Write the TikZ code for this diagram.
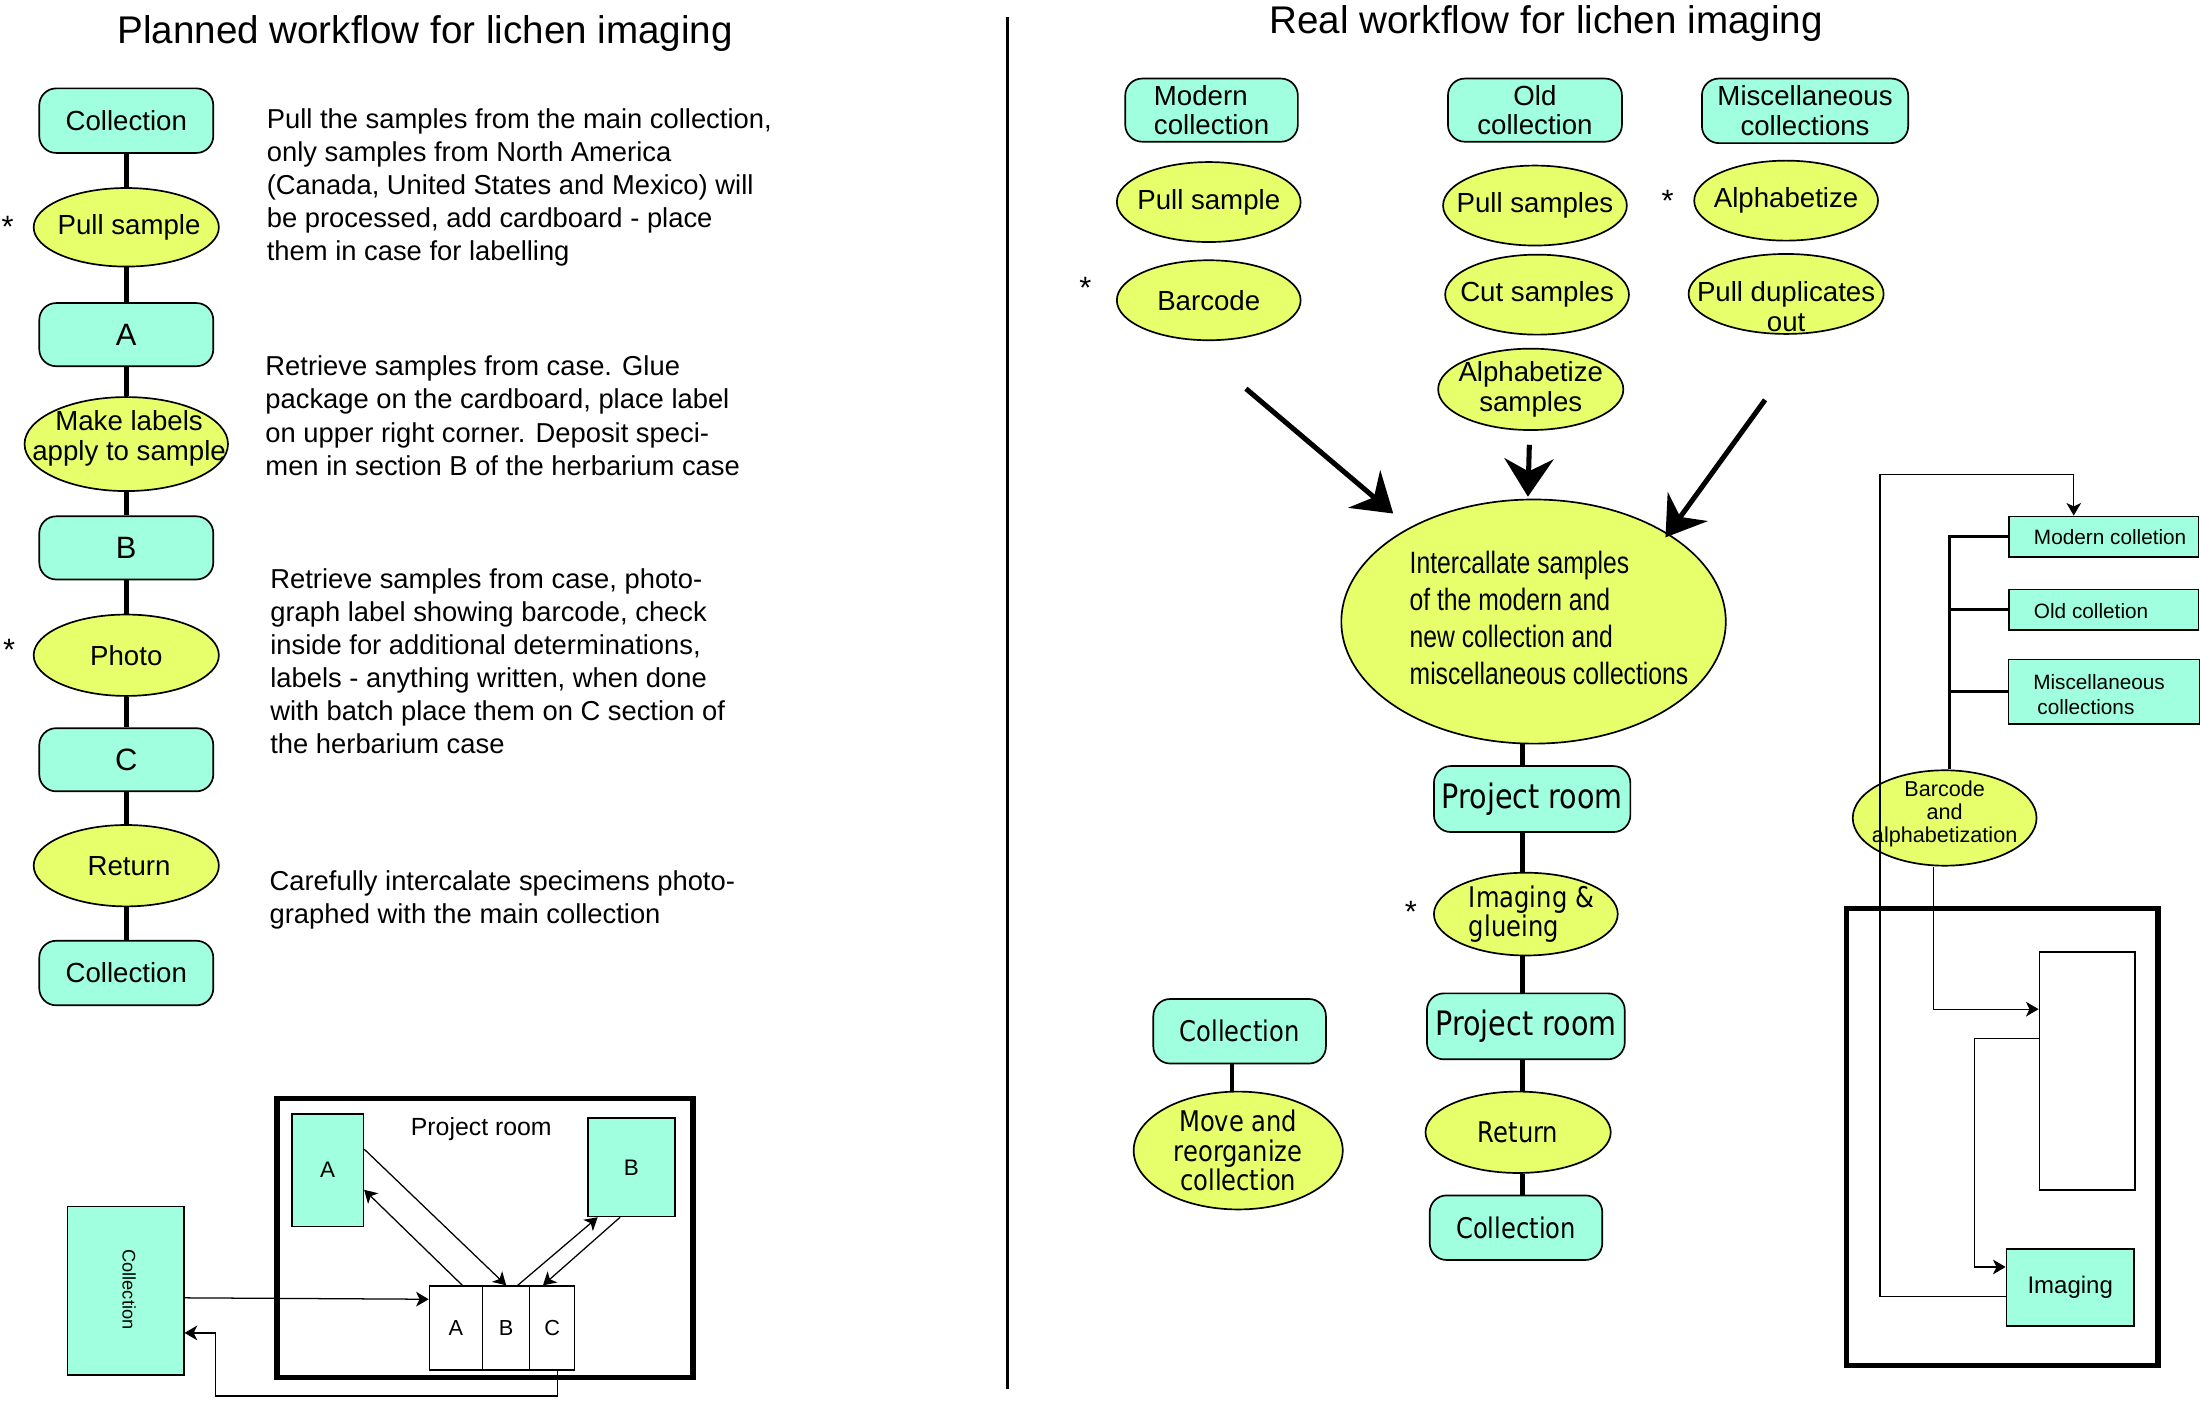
\documentclass[tikz,border=0pt]{standalone}
\usepackage{fontspec}
\setmainfont{Liberation Sans}
\newfontfamily\narrowf[FakeStretch=0.8]{Liberation Sans}
\newfontfamily\widef[FakeStretch=0.85]{DejaVu Sans}
\usetikzlibrary{shapes.geometric,arrows.meta,calc}
\definecolor{cgreen}{RGB}{159,255,222}
\definecolor{cyel}{RGB}{232,255,108}
\newcommand{\fsz}[2]{\fontsize{#1pt}{#2pt}\selectfont}
\begin{document}
\begin{tikzpicture}[x=1pt,y=-1pt,
  gbox/.style={draw, line width=1.2pt, fill=cgreen, rounded corners=12pt, inner sep=0pt, align=center},
  yell/.style={draw, ellipse, line width=1.2pt, fill=cyel, inner sep=0pt},
  rbox/.style={draw, line width=1.1pt, fill=cgreen, inner sep=0pt},
  cell/.style={draw, line width=0.9pt, fill=white, inner sep=0pt, minimum height=60pt, font=\fsz{15.5}{17}},
  ltxt/.style={font=\fsz{19.7}{21}, align=center, inner sep=0pt},
  wtxt/.style={font=\widef\fsz{20.3}{21}, align=center, inner sep=0pt},
  wlab/.style={font=\fsz{14.8}{18}, align=left, inner sep=0pt},
  para/.style={font=\fsz{19.5}{23.6}, align=left, inner sep=0pt, anchor=north west},
  ast/.style={font=\fsz{22}{22}, inner sep=0pt},
  conn/.style={line width=3.2pt},
  busline/.style={line width=2.4pt},
  thinarrow/.style={line width=0.9pt, -{Stealth[length=9pt, width=10.5pt, inset=2.5pt]}},
  bigarrow/.style={line width=3.6pt, -{Stealth[length=27pt, width=35pt, inset=9pt]}},
  room/.style={draw, line width=3.8pt, inner sep=0pt}
]
\fill[white] (0,0) rectangle (1568,998.5);
\useasboundingbox (0,0) rectangle (1568,998.5);

% ---------------- titles and divider
\node[font=\fsz{27.5}{30}, anchor=base, inner sep=0pt] (T1) at (303,31) {Planned workflow for lichen imaging};
\node[font=\fsz{27.5}{30}, anchor=base, inner sep=0pt] (T2) at (1102,24) {Real workflow for lichen imaging};
\coordinate (dv1) at (718,12);
\coordinate (dv2) at (718,990);
\draw[line width=2.2pt] (dv1) -- (dv2);

% ---------------- planned workflow column
\node[gbox, minimum width=124pt, minimum height=46pt, font=\fsz{19.7}{21}] (L1) at (90,86) {Collection};
\node[yell, minimum width=132pt, minimum height=56pt, label={[ltxt, xshift=2pt]center:Pull sample}] (L2) at (90,162) {};
\node[gbox, minimum width=124pt, minimum height=45pt, font=\fsz{22}{24}] (L3) at (90,238.5) {A};
\node[yell, minimum width=145pt, minimum height=67pt, label={[ltxt, xshift=2pt, yshift=4pt]center:{Make labels\\apply to sample}}] (L4) at (90,316.5) {};
\node[gbox, minimum width=124pt, minimum height=45pt, font=\fsz{22}{24}] (L5) at (90,390.5) {B};
\node[yell, minimum width=132pt, minimum height=58pt, label={[ltxt]center:Photo}] (L6) at (90,467) {};
\node[gbox, minimum width=124pt, minimum height=45pt, font=\fsz{22}{24}] (L7) at (90,541.5) {C};
\node[yell, minimum width=132pt, minimum height=58pt, label={[ltxt, xshift=2pt]center:Return}] (L8) at (90,617) {};
\node[gbox, minimum width=124pt, minimum height=46pt, font=\fsz{19.7}{21}] (L9) at (90,693.5) {Collection};
\foreach \a/\b in {L1/L2,L2/L3,L3/L4,L4/L5,L5/L6,L6/L7,L7/L8,L8/L9}
  \draw[conn] (\a.south) -- (\b.north);
\node[ast] (S1) at (5.5,162) {*};
\node[ast] (S2) at (6.5,463) {*};

\node[para] (P1) at (190,77) {Pull the samples from the main collection,\\only samples from North America\\(Canada, United States and Mexico) will\\be processed, add cardboard - place\\them in case for labelling};
\node[para] (P2) at (189,253.5) {Retrieve samples from case. Glue\\package on the cardboard, place label\\on upper right corner. Deposit speci-\\men in section B of the herbarium case};
\node[para] (P3) at (192.5,405) {Retrieve samples from case, photo-\\graph label showing barcode, check\\inside for additional determinations,\\labels - anything written, when done\\with batch place them on C section of\\the herbarium case};
\node[para] (P4) at (192,620.5) {Carefully intercalate specimens photo-\\graphed with the main collection};

% ---------------- floor plan (planned)
\node[room, minimum width=296.5pt, minimum height=199pt] (PR) at (345.75,882.5) {};
\node[rbox, minimum width=51pt, minimum height=80pt, font=\fsz{16}{17}] (RA) at (233.5,834) {A};
\node[rbox, minimum width=62pt, minimum height=70pt, font=\fsz{16}{17}] (RB) at (450,832) {B};
\node[font=\fsz{17.7}{19}, inner sep=0pt] (PRt) at (343,805) {Project room};
\node[rbox, minimum width=83pt, minimum height=120pt] (RC) at (89.5,920) {};
\node[font=\fsz{13}{14}, inner sep=0pt, rotate=-90] (RCt) at (92,919) {Collection};
\node[cell, minimum width=38pt] (CA) at (325,946.5) {A};
\node[cell, minimum width=33.5pt] (CB) at (360.75,946.5) {B};
\node[cell, minimum width=32pt] (CC) at (393.5,946.5) {C};
\draw[thinarrow] ([yshift=-5pt]RC.east) -- ([yshift=20.5pt]CA.west);
\draw[thinarrow] ([xshift=4.5pt]CA.north) -- ([yshift=-14pt]RA.east);
\draw[thinarrow] ([yshift=15pt]RA.east) -- (CB.north);
\draw[thinarrow] ([xshift=8.25pt]CB.north) -- ([xshift=-24pt]RB.south);
\draw[thinarrow] ([xshift=-8pt]RB.south) -- ([xshift=-6.5pt]CC.north);
\coordinate (rtn) at (153.7,995);
\draw[thinarrow] ([xshift=4pt]CC.south) |- (rtn) |- ([yshift=-30pt]RC.east);

% ---------------- real workflow: sources
\node[gbox, minimum width=123pt, minimum height=45pt, font=\fsz{19.7}{21}, align=left] (R1) at (863.5,78.5) {Modern\\collection};
\node[gbox, minimum width=124pt, minimum height=45pt, font=\fsz{19.7}{21}] (R2) at (1094,78.5) {Old\\collection};
\node[gbox, minimum width=147pt, minimum height=46pt, font=\fsz{19.7}{21}] (R3) at (1286.5,79) {Miscellaneous\\collections};
\node[yell, minimum width=131pt, minimum height=57pt, label={[ltxt]center:Pull sample}] (R4) at (861.5,144) {};
\node[yell, minimum width=131pt, minimum height=57pt, label={[ltxt]center:Barcode}] (R5) at (861.5,214) {};
\node[yell, minimum width=131pt, minimum height=57pt, label={[ltxt]center:Pull samples}] (R6) at (1094,146.5) {};
\node[yell, minimum width=131pt, minimum height=57pt, label={[ltxt]center:Cut samples}] (R7) at (1095.5,210) {};
\node[yell, minimum width=132pt, minimum height=58pt, label={[ltxt]center:{Alphabetize\\samples}}] (R8) at (1091,277.5) {};
\node[yell, minimum width=131pt, minimum height=57pt, label={[ltxt]center:Alphabetize}] (R9) at (1273,143) {};
\node[yell, minimum width=139pt, minimum height=57pt, label={[ltxt, yshift=-9pt]center:{Pull duplicates\\out}}] (R10) at (1273,209.5) {};
\node[ast] (S3) at (773.5,205) {*};
\node[ast] (S4) at (1188.5,143) {*};

% ---------------- intercalation
\node[yell, minimum width=274pt, minimum height=174pt, label={[font=\narrowf\fsz{22}{26.5}, align=left, inner sep=0pt, xshift=11pt, yshift=2.5pt]center:{Intercallate samples\\of the modern and\\new collection and\\miscellaneous collections}}] (IC) at (1093,443) {};
\coordinate (a1s) at (888,277);
\coordinate (a1e) at (993,366);
\coordinate (a2s) at (1090,317);
\coordinate (a2e) at (1089,354);
\coordinate (a3s) at (1258,285);
\coordinate (a3e) at (1187,383);
\draw[bigarrow] (a1s) -- (a1e);
\draw[bigarrow] (a2s) -- (a2e);
\draw[bigarrow] (a3s) -- (a3e);

\node[gbox, minimum width=140pt, minimum height=47pt, font=\widef\fsz{24}{26}] (PR1) at (1092,569.5) {Project room};
\node[yell, minimum width=131pt, minimum height=59pt, label={[wtxt, align=left, xshift=4pt]center:{Imaging \&\\glueing}}] (IM) at (1087.5,651.5) {};
\node[gbox, minimum width=141pt, minimum height=47pt, font=\widef\fsz{24}{26}] (PR2) at (1087.5,731.5) {Project room};
\node[yell, minimum width=132pt, minimum height=58pt, label={[wtxt]center:Return}] (RT) at (1082,807) {};
\node[gbox, minimum width=123pt, minimum height=46pt, font=\widef\fsz{20.3}{21}] (C3) at (1080.5,875) {Collection};
\node[ast] (S5) at (1005.5,650) {*};
\coordinate (sp) at (1085,0);
\draw[conn] (IC.south -| sp) -- (PR1.north -| sp);
\draw[conn] (PR1.south -| sp) -- (IM.north -| sp);
\draw[conn] (IM.south -| sp) -- (PR2.north -| sp);
\draw[conn] (PR2.south -| sp) -- (RT.north -| sp);
\draw[conn] (RT.south -| sp) -- (C3.north -| sp);

\node[gbox, minimum width=123pt, minimum height=46pt, font=\widef\fsz{20.3}{21}] (C4) at (883.5,735) {Collection};
\node[yell, minimum width=149pt, minimum height=84pt, label={[wtxt]center:{Move and\\reorganize\\collection}}] (MV) at (882.5,820) {};
\coordinate (sp2) at (878,0);
\draw[conn] (C4.south -| sp2) -- (MV.north -| sp2);

% ---------------- right-most plan
\node[room, minimum width=222pt, minimum height=325.5pt] (BB) at (1427,810.25) {};
\node[draw, line width=1.1pt, fill=white, inner sep=0pt, minimum width=68pt, minimum height=169.5pt] (IR) at (1487.5,763.25) {};
\node[rbox, minimum width=91pt, minimum height=55pt, font=\fsz{17.1}{19}] (IG) at (1475.5,917.5) {Imaging};
\node[rbox, minimum width=135pt, minimum height=29pt] (M1) at (1499.5,382.5) {};
\node[wlab, anchor=west] (M1t) at ([xshift=18pt]M1.west) {Modern colletion};
\node[rbox, minimum width=135pt, minimum height=29pt] (M2) at (1499.5,434.5) {};
\node[wlab, anchor=west] (M2t) at ([xshift=18pt, yshift=-1pt]M2.west) {Old colletion};
\node[rbox, minimum width=136pt, minimum height=46pt] (M3) at (1499.5,493) {};
\node[wlab, anchor=west] (M3t) at ([xshift=18pt, yshift=-2pt]M3.west) {Miscellaneous\\\hspace*{3pt}collections};
\node[yell, minimum width=131pt, minimum height=68pt, label={[font=\fsz{15.4}{16.4}, align=center, inner sep=0pt, yshift=3pt]center:{Barcode\\and\\alphabetization}}] (BA) at (1386,583) {};
\coordinate (bus) at (1389.5,0);
\draw[busline] (M1.west) -- (M1.west -| bus) -- (BA.north -| bus);
\draw[busline] (M2.west) -- (M2.west -| bus);
\draw[busline] (M3.west) -- (M3.west -| bus);
\coordinate (lp) at (1340,338);
\draw[thinarrow] ([yshift=-6.5pt]IG.west) -| (lp) -| ([xshift=-21.5pt]M1.north);
\draw[thinarrow] ([xshift=-8pt]BA.south) |- ([yshift=44pt]IR.west);
\coordinate (jg) at (1407,820);
\draw[thinarrow] ([yshift=23pt]IR.west) -| (jg) |- ([yshift=14.5pt]IG.west);
\end{tikzpicture}
\end{document}
